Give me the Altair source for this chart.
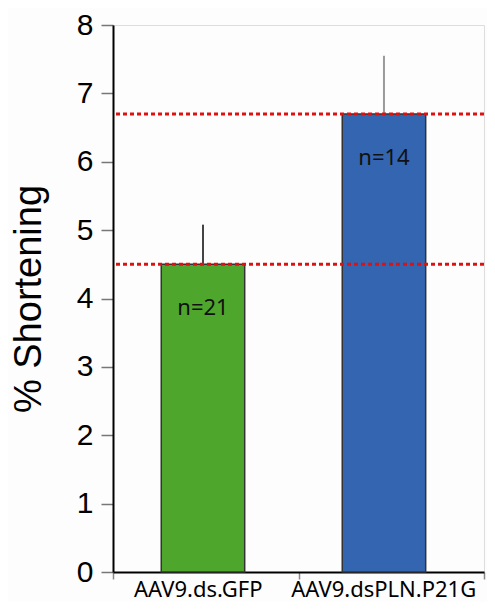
import altair as alt
import pandas as pd

groups = ["AAV9.ds.GFP", "AAV9.dsPLN.P21G"]
means = [4.5, 6.7]
errors = [0.58, 0.85]
n_labels = ["n=21", "n=14"]
bar_colors = ["#4ea72c", "#3465b0"]
err_colors = ["#444444", "#9a9a9a"]
ref_lines = [4.5, 6.7]
y_ticks = [0, 1, 2, 3, 4, 5, 6, 7, 8]

df = pd.DataFrame({
    "group": groups,
    "mean": means,
    "top": [m + e for m, e in zip(means, errors)],
    "label": n_labels,
    "color": bar_colors,
    "ecolor": err_colors,
})
ref_df = pd.DataFrame({"y": ref_lines})

y_scale = alt.Scale(domain=[0, 8], nice=False)
y_axis = alt.Axis(
    values=y_ticks, format="d", grid=False, title="% Shortening",
    labelFont="Liberation Sans", labelFontSize=30, labelColor="black",
    labelPadding=8, tickSize=12, tickColor="#777777", tickWidth=1.5,
    domainColor="black", domainWidth=2,
    titleFont="Liberation Sans", titleFontSize=38, titleFontWeight="normal",
    titleColor="black", titlePadding=28,
)

# axis layer (category bands with dividers)
axis_layer = alt.Chart(df).mark_bar(opacity=0).encode(
    x=alt.X("group:N", sort=groups,
            scale=alt.Scale(paddingInner=0, paddingOuter=0),
            axis=alt.Axis(title=None, labelAngle=0, labelFont="Noto Sans",
                          labelFontSize=22, labelColor="black", labelPadding=0,
                          labelBaseline="top", labelOffset=-8, labelLimit=0,
                          tickBand="extent", tickSize=7, tickColor="#888888",
                          tickWidth=1.5, domainColor="black", domainWidth=2)),
    y=alt.Y("mean:Q", scale=y_scale, axis=y_axis),
)

bar_x = alt.X("group:N", sort=groups, axis=None,
              scale=alt.Scale(paddingInner=0.539, paddingOuter=0.2944, align=0.4528))

bars = alt.Chart(df).mark_bar(stroke="#333333", strokeWidth=1.5).encode(
    x=bar_x,
    y=alt.Y("mean:Q", scale=y_scale),
    color=alt.Color("color:N", scale=None),
)
errs = alt.Chart(df).mark_rule(strokeWidth=2).encode(
    x=bar_x,
    y=alt.Y("mean:Q", scale=y_scale),
    y2="top:Q",
    color=alt.Color("ecolor:N", scale=None),
)
texts = alt.Chart(df).mark_text(
    dy=44, baseline="middle", align="center", font="Noto Sans",
    fontSize=22, color="#111111",
).encode(
    x=bar_x,
    y=alt.Y("mean:Q", scale=y_scale),
    text="label:N",
)
bar_layer = alt.layer(bars, errs, texts)

refs = alt.Chart(ref_df).mark_rule(
    color="#e01010", strokeWidth=3, strokeDash=[4, 3]
).encode(y=alt.Y("y:Q", scale=y_scale))

chart = alt.layer(axis_layer, bar_layer, refs).resolve_scale(
    x="independent"
).properties(
    width=479, height=594,
    autosize=alt.AutoSizeParams(type="fit", contains="padding"),
    padding={"left": 2, "top": 2, "right": 1, "bottom": 2},
).configure_view(
    stroke="black", strokeWidth=2
).configure(background="#fdfdfd")

chart.save("out.html", embed_options={"renderer": "svg", "actions": False})
